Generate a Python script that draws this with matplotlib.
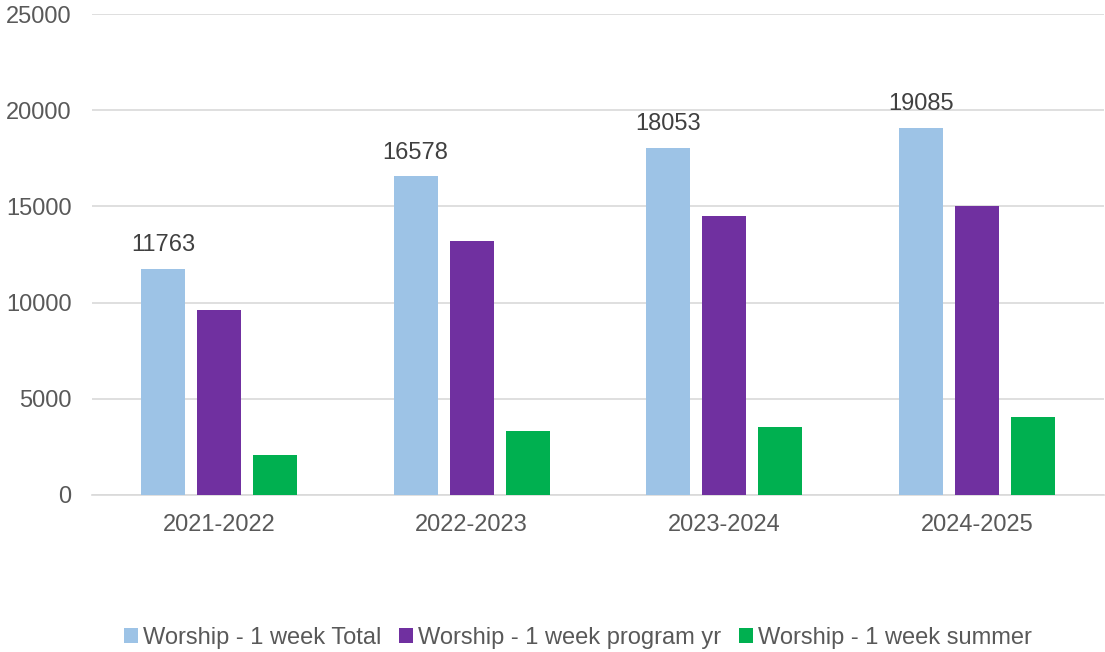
import matplotlib.pyplot as plt
import numpy as np

plt.rcParams['font.family'] = ['Liberation Sans', 'DejaVu Sans']

years = ["2021-2022", "2022-2023", "2023-2024", "2024-2025"]
total = [11763, 16578, 18053, 19085]
program_yr = [9600, 13200, 14500, 15000]
summer = [2100, 3330, 3540, 4050]

series_names = ["Worship - 1 week Total", "Worship - 1 week program yr", "Worship - 1 week summer"]
colors = ["#9DC3E6", "#7030A0", "#00B050"]

fig = plt.figure(figsize=(11.05, 6.52), dpi=100)
ax = fig.add_axes([0.0837, 0.2408, 0.915, 0.7377])

x = np.arange(len(years))
w = 0.174
pitch = 0.2216
bars = []
for i, (vals, name, c) in enumerate(zip([total, program_yr, summer], series_names, colors)):
    b = ax.bar(x + (i - 1) * pitch, vals, w, color=c, label=name, zorder=3)
    bars.append(b)

for rect, v in zip(bars[0], total):
    ax.annotate(f"{v}", (rect.get_x() + rect.get_width() / 2, v),
                xytext=(0, 9), textcoords='offset points',
                ha='center', va='bottom', fontsize=17, color="#404040")

ax.set_xlim(-0.5, len(years) - 0.5)
ax.set_ylim(0, 25000)
ax.set_yticks(range(0, 25001, 5000))
ax.set_xticks(x)
ax.set_xticklabels(years)
ax.yaxis.grid(True, color="#D9D9D9", linewidth=1.2, zorder=0)
ax.set_axisbelow(True)
for s in ["top", "right", "left"]:
    ax.spines[s].set_visible(False)
ax.spines["bottom"].set_color("#D9D9D9")
ax.spines["bottom"].set_linewidth(1.2)
ax.tick_params(axis='both', length=0, labelsize=17, colors="#595959")
ax.tick_params(axis='x', pad=14)
ax.tick_params(axis='y', pad=15)

fig.legend(loc='center', bbox_to_anchor=(0.523, 0.021), ncol=3, frameon=False,
           fontsize=17, labelcolor="#595959", handlelength=0.6, handleheight=0.6,
           handletextpad=0.2, columnspacing=0.75)

plt.savefig('out.png', dpi=100)
